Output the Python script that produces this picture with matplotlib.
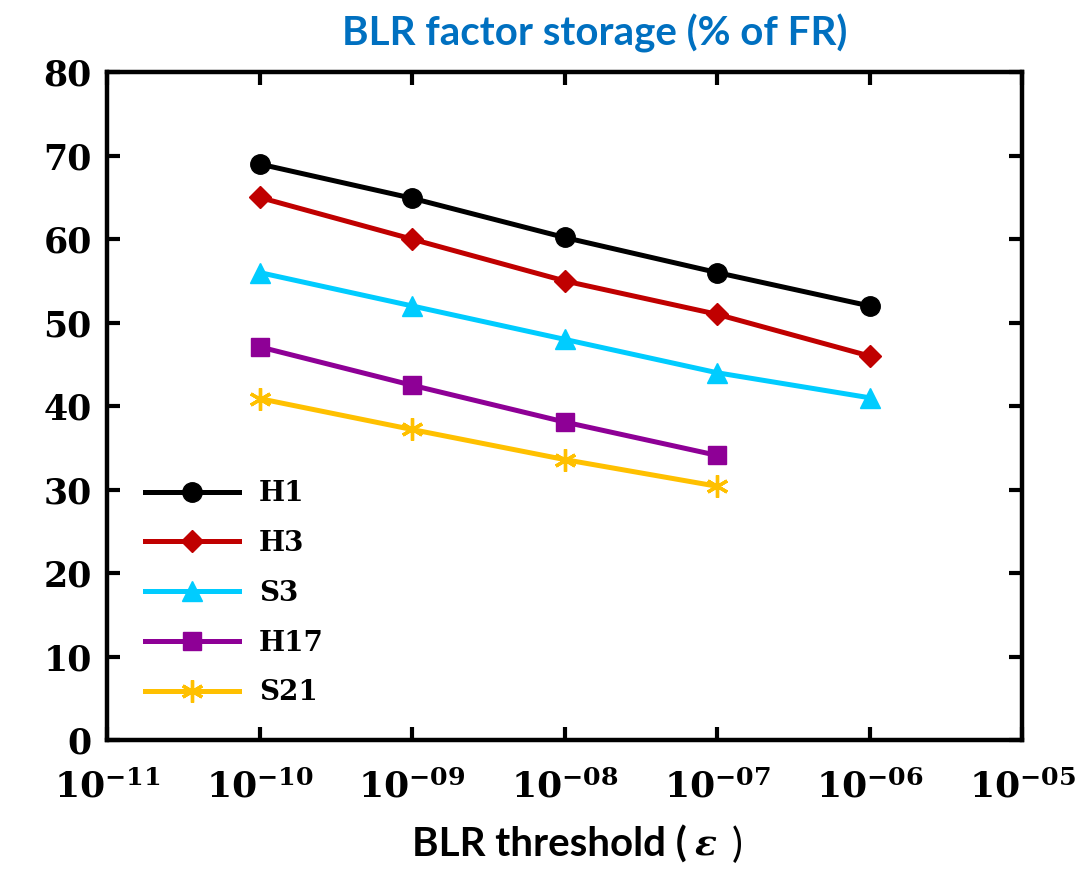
import matplotlib
matplotlib.use("Agg")
import matplotlib.pyplot as plt
from matplotlib.ticker import FixedLocator, FixedFormatter, NullLocator

# data
thresholds = [1e-10, 1e-9, 1e-8, 1e-7, 1e-6]
h1 = [69.0, 64.9, 60.2, 56.0, 52.0]
h3 = [65.0, 60.0, 55.0, 51.0, 46.0]
s3 = [56.0, 52.0, 48.0, 44.0, 41.0]
h17 = [47.1, 42.5, 38.1, 34.1]
s21 = [40.9, 37.2, 33.6, 30.4]

xtick_vals = [1e-11, 1e-10, 1e-9, 1e-8, 1e-7, 1e-6, 1e-5]
xtick_labels = [r"$\mathregular{10^{-11}}$", r"$\mathregular{10^{-10}}$", r"$\mathregular{10^{-09}}$",
                r"$\mathregular{10^{-08}}$", r"$\mathregular{10^{-07}}$", r"$\mathregular{10^{-06}}$",
                r"$\mathregular{10^{-05}}$"]
ytick_vals = [0, 10, 20, 30, 40, 50, 60, 70, 80]

plt.rcParams['font.family'] = 'DejaVu Serif'
plt.rcParams['font.weight'] = 'bold'
plt.rcParams['mathtext.fontset'] = 'dejavuserif'

fig = plt.figure(figsize=(10.77, 8.8), dpi=100)
ax = fig.add_axes([0.0994, 0.159, 0.8496, 0.759])

lw = 3.6
ax.plot(thresholds, h1, color='black', lw=lw, marker='o', ms=14, label='H1')
ax.plot(thresholds, h3, color='#C00000', lw=lw, marker='D', ms=11, label='H3')
ax.plot(thresholds, s3, color='#00CCFF', lw=lw, marker='^', ms=14, label='S3')
ax.plot(thresholds[:4], h17, color='#8E0096', lw=lw, marker='s', ms=13, label='H17')
ax.plot(thresholds[:4], s21, color='#FFC000', lw=lw, marker=(6, 2, 0), ms=16, mew=2.4, label='S21')

ax.set_xscale('log')
ax.set_xlim(1e-11, 1e-5)
ax.set_ylim(0, 80)
ax.xaxis.set_major_locator(FixedLocator(xtick_vals))
ax.xaxis.set_major_formatter(FixedFormatter(xtick_labels))
ax.xaxis.set_minor_locator(NullLocator())
ax.set_yticks(ytick_vals)

for s in ax.spines.values():
    s.set_linewidth(3.2)
ax.tick_params(direction='in', length=9.5, width=3, top=True, right=True)
ax.tick_params(axis='x', labelsize=26, pad=21)
ax.tick_params(axis='y', labelsize=25, pad=11)

fig.text(0.552, 0.962, 'BLR factor storage (% of FR)', fontsize=29, fontweight='bold',
         color='#0070C0', family='Lato', ha='center', va='center')
fig.text(0.638, 0.040, 'BLR threshold (', fontsize=29, fontweight='bold',
         family='Lato', ha='right', va='center')
fig.text(0.644, 0.040, r'$\epsilon$', fontsize=26, ha='left', va='center',
         math_fontfamily='dejavuserif')
fig.text(0.679, 0.040, ')', fontsize=29, fontweight='normal', family='Lato',
         ha='left', va='center')

leg = ax.legend(loc='upper left', bbox_to_anchor=(0.041, 0.389), frameon=False,
                prop={'family': 'DejaVu Serif', 'weight': 'bold', 'size': 20},
                handlelength=3.4, handletextpad=0.72, labelspacing=0.82,
                borderaxespad=0, borderpad=0)

plt.savefig('out.png', dpi=100)
